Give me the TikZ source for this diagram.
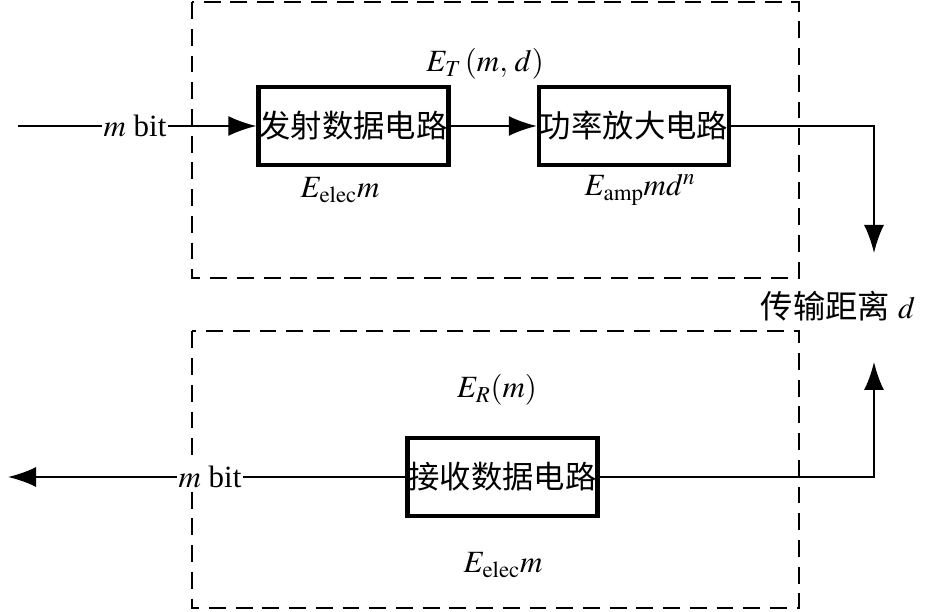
\documentclass[tikz,border=0pt]{standalone}
\usepackage{mathptmx}
\usepackage{fontspec}
\setmainfont{Liberation Serif}
\newfontfamily\cjk{Noto Sans CJK SC}
\usetikzlibrary{arrows.meta,positioning,calc}

\tikzset{
  txt/.style={font=\fontsize{22}{26}\selectfont},
  circuit/.style={draw, line width=3.2pt, minimum width=4.75cm, minimum height=1.95cm, inner sep=0pt, font=\cjk\fontsize{22.3}{27}\selectfont},
  zone/.style={line width=1.3pt, dash pattern=on 12pt off 7pt},
  wire/.style={line width=1.4pt},
  flow/.style={wire, -{Latex[length=0.7cm,width=0.5cm]}}
}

\begin{document}
\begin{tikzpicture}
			\useasboundingbox (0,0) rectangle (23.625,15.275);
			
			% Transmitter and receiver zones
			\draw[zone] (4.8,15.22) rectangle (19.97,8.33);
			\draw[zone] (4.8,6.99) rectangle (19.97,0.07);
			
			% Transmitter circuits
			\node[circuit] (txdata) at (8.84,12.125) {发射数据电路};
			\node[circuit] (power) at (15.85,12.125) {功率放大电路};
			
			% Receiver circuit
			\node[circuit] (rxdata) at (12.56,3.35) {接收数据电路};
			
			% Distance
			\node[txt] (dist) at (20.95,7.625) {{\cjk\fontsize{23}{27}\selectfont 传输距离} $d$};
			\coordinate (tipA) at (21.85,8.95);
			\coordinate (tipB) at (21.85,6.225);
			
			% Input and output ends
			\coordinate (inp) at (0.45,12.125);
			\coordinate (outp) at (0.2,3.35);
			
			% Connectors
			\draw[flow] (inp) -- (txdata);
			\draw[flow] (txdata) -- (power);
			\draw[flow] (power.east) -| (tipA);
			\draw[flow] (rxdata.east) -| (tipB);
			\draw[flow] (rxdata) -- (outp);
			
			% Bit labels
			\node[txt, fill=white, inner sep=1pt] (inbit) at (3.375,12.125) {$m$ bit};
			\node[txt, fill=white, inner sep=1pt] (outbit) at (5.25,3.35) {$m$ bit};
			
			% Energy labels
			\node[txt] (et) at (12.125,13.675) {$E_T\,(m,\,d)$};
			\node[txt] (eelec1) at (8.5,10.525) {$E_{\mathrm{elec}}m$};
			\node[txt] (eamp) at (16.0,10.525) {$E_{\mathrm{amp}}md^{n}$};
			\node[txt] (er) at (12.425,5.525) {$E_R(m)$};
			\node[txt] (eelec2) at (12.575,1.15) {$E_{\mathrm{elec}}m$};
		\end{tikzpicture}
\end{document}
